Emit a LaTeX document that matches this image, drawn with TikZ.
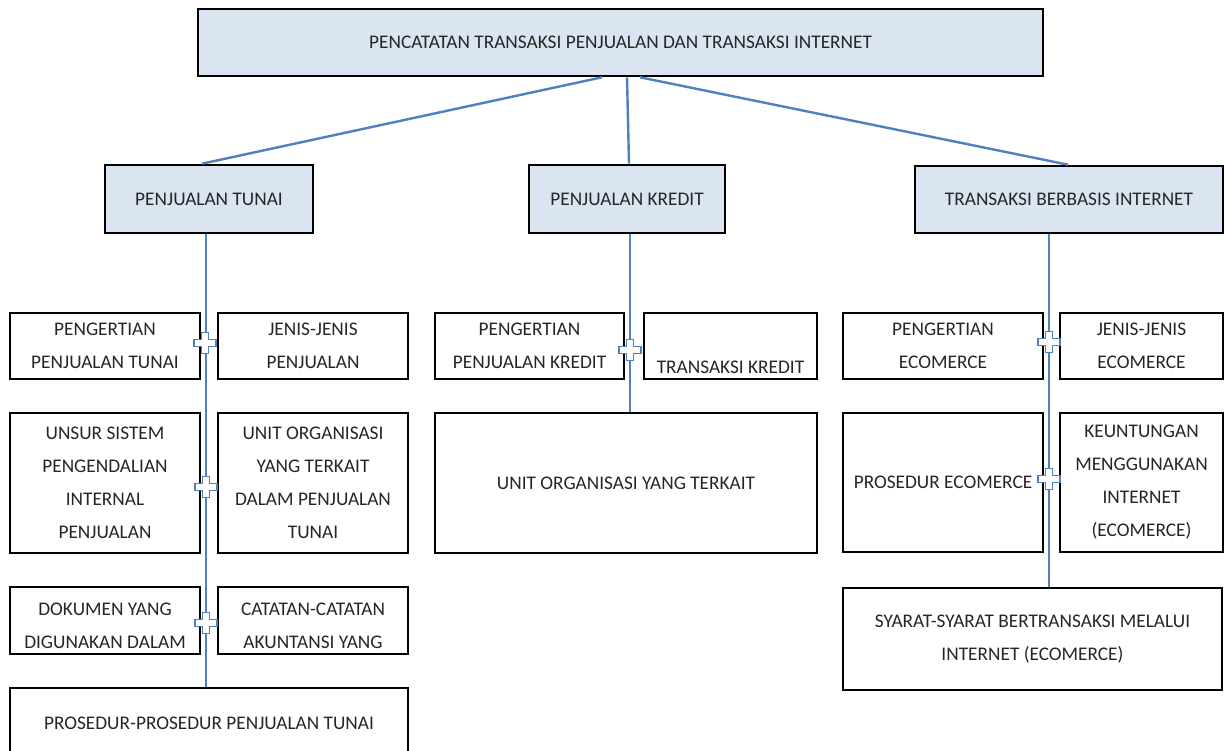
\documentclass[tikz,border=0pt]{standalone}
\usepackage{fontspec}
\setmainfont{Carlito}
\definecolor{lb}{RGB}{219,229,241}
\definecolor{ln}{RGB}{79,129,189}
\tikzset{
  box/.style={draw=black, line width=2.6pt, fill=white, inner sep=0pt, align=center,
    font=\fontsize{19.3}{33}\selectfont, text=black!85},
  hbox/.style={box, fill=lb},
  txt/.style={inner sep=0pt, align=center, font=\fontsize{19.3}{33}\selectfont, text=black!85},
  conn/.style={draw=ln, line width=2.4pt},
  vconn/.style={draw=ln, line width=2pt},
  plusj/.pic={\draw[draw=ln, line width=1.3pt, fill=white]
    (-11,-3.5) -- (-3.5,-3.5) -- (-3.5,-10.5) -- (3.5,-10.5) -- (3.5,-3.5) -- (11,-3.5)
    -- (11,3.5) -- (3.5,3.5) -- (3.5,10.5) -- (-3.5,10.5) -- (-3.5,3.5) -- (-11,3.5) -- cycle;}
}
\begin{document}
\begin{tikzpicture}[x=1pt,y=-1pt]
\useasboundingbox (0,0) rectangle (1225,751);
\clip (0,0) rectangle (1225,751);
\fill[white] (0,0) rectangle (1225,751);

% top
\node[hbox, minimum width=845pt, minimum height=67pt] (top) at (620.5,42.5)
  {PENCATATAN TRANSAKSI PENJUALAN DAN TRANSAKSI INTERNET};
% level 2
\node[hbox, minimum width=208pt, minimum height=68pt] (tunai) at (209,199) {PENJUALAN TUNAI};
\node[hbox, minimum width=196pt, minimum height=68pt] (kredit) at (627,199) {PENJUALAN KREDIT};
\node[hbox, minimum width=308pt, minimum height=67pt] (inet) at (1069,199.5) {TRANSAKSI BERBASIS INTERNET};

% left column
\node[box, minimum width=190pt, minimum height=66pt] (L1a) at (105,346) {PENGERTIAN\\PENJUALAN TUNAI};
\node[box, minimum width=190pt, minimum height=66pt] (L1b) at (313,346) {JENIS-JENIS\\PENJUALAN};
\node[box, minimum width=190pt, minimum height=140pt] (L2a) at (105,483) {UNSUR SISTEM\\PENGENDALIAN\\INTERNAL\\PENJUALAN};
\node[box, minimum width=190pt, minimum height=140pt] (L2b) at (313,483) {UNIT ORGANISASI\\YANG TERKAIT\\DALAM PENJUALAN\\TUNAI};
\node[box, minimum width=190pt, minimum height=67pt] (L3a) at (105,620.5) {};
\node[box, minimum width=190pt, minimum height=67pt] (L3b) at (313,620.5) {};
\node[txt] (L3at) at (105,626) {DOKUMEN YANG\\DIGUNAKAN DALAM};
\node[txt] (L3bt) at (313,626) {CATATAN-CATATAN\\AKUNTANSI YANG};
\node[box, minimum width=398pt, minimum height=70pt] (L4) at (209,723) {PROSEDUR-PROSEDUR PENJUALAN TUNAI};

% middle column
\node[box, minimum width=189pt, minimum height=66pt] (M1a) at (529.5,346) {PENGERTIAN\\PENJUALAN KREDIT};
\node[box, minimum width=173pt, minimum height=66pt] (M1b) at (730.5,346) {\strut\\TRANSAKSI KREDIT};
\node[box, minimum width=382pt, minimum height=140pt] (M2) at (626,483) {UNIT ORGANISASI YANG TERKAIT};

% right column
\node[box, minimum width=200pt, minimum height=66pt] (R1a) at (943,346) {PENGERTIAN\\ECOMERCE};
\node[box, minimum width=163pt, minimum height=66pt] (R1b) at (1141.5,346) {JENIS-JENIS\\ECOMERCE};
\node[box, minimum width=200pt, minimum height=139pt] (R2a) at (943,482.5) {PROSEDUR ECOMERCE};
\node[box, minimum width=163pt, minimum height=139pt] (R2b) at (1141.5,482.5) {KEUNTUNGAN\\MENGGUNAKAN\\INTERNET\\(ECOMERCE)};
\node[box, minimum width=379pt, minimum height=102pt] (R3) at (1032.5,639) {SYARAT-SYARAT BERTRANSAKSI MELALUI\\INTERNET (ECOMERCE)};

% connectors from top
\coordinate (ta) at ([xshift=-18.5pt]top.south);
\coordinate (tb) at ([xshift=6.5pt]top.south);
\coordinate (tc) at ([xshift=19.5pt]top.south);
\draw[conn] (ta) -- ([xshift=-7pt]tunai.north);
\draw[conn] (tb) -- ([xshift=2pt]kredit.north);
\draw[conn] (tc) -- ([xshift=-1pt]inet.north);

% vertical trunks
\draw[vconn] ([xshift=-3pt]tunai.south) -- ([xshift=-3pt]tunai.south |- L4.north);
\draw[vconn] ([xshift=3pt]kredit.south) -- ([xshift=3pt]kredit.south |- M2.north);
\draw[vconn] ([xshift=-20pt]inet.south) -- ([xshift=-20pt]inet.south |- R3.north);

% junction crosses
\pic at (205,343) {plusj};
\pic at (206,487) {plusj};
\pic at (206,623) {plusj};
\pic at (630,350) {plusj};
\pic at (1049,342) {plusj};
\pic at (1049,479) {plusj};
\end{tikzpicture}
\end{document}
